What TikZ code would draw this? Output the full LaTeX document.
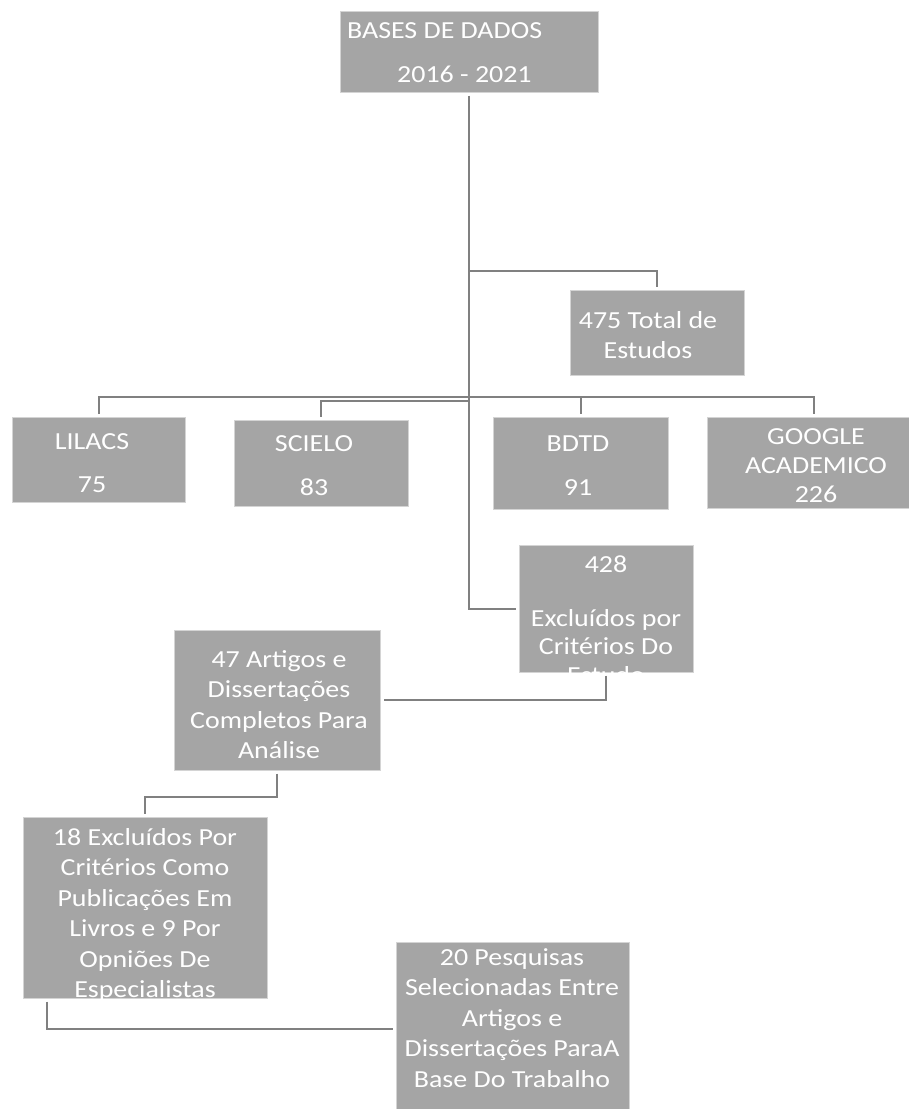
\documentclass[tikz,border=0pt]{standalone}
\usepackage{fontspec}
\setmainfont{Carlito}[FakeStretch=1.14]
\definecolor{boxgray}{HTML}{A5A5A5}
\definecolor{linegray}{HTML}{808080}
\definecolor{edgegray}{HTML}{D4D4D4}
\newcommand{\boxfont}{\fontsize{24.5}{30.5}\selectfont}

\begin{document}
\begin{tikzpicture}[x=1pt, y=-1pt,
    box/.style ={rectangle, fill=boxgray, draw=edgegray, line width=0.6pt, anchor=north west, inner sep=0pt},
    txt/.style ={text=white, font=\boxfont, align=center, anchor=north, inner sep=0pt},
    link/.style ={draw=linegray, line width=2pt, shorten <=3pt, shorten >=3pt}]
   \clip (0,0) rectangle (909,1109);

   % caixas
   \node[box, minimum width=258pt, minimum height=81pt]  (bases)     at (340,11)  {};
   \node[box, minimum width=174pt, minimum height=85pt]  (total)     at (570,290) {};
   \node[box, minimum width=173pt, minimum height=85pt]  (lilacs)    at (12,417)  {};
   \node[box, minimum width=174pt, minimum height=86pt]  (scielo)    at (234,420) {};
   \node[box, minimum width=175pt, minimum height=92pt]  (bdtd)      at (493,417) {};
   \node[box, minimum width=214pt, minimum height=91pt]  (google)    at (707,417) {};
   \node[box, minimum width=174pt, minimum height=127pt] (excl428)   at (519,545) {};
   \node[box, minimum width=206pt, minimum height=140pt] (artigos47) at (174,630) {};
   \node[box, minimum width=244pt, minimum height=181pt] (excl18)    at (23,817)  {};
   \node[box, minimum width=233pt, minimum height=173pt] (pesq20)    at (396,942) {};

   % textos (\strut: topo do texto = linha de base - 21.35pt)
   \node[txt, align=left, anchor=north west] (bases-t) at (347,16.6) {\strut BASES DE DADOS\\[13.5pt]\hspace*{50pt}2016 - 2021};
   \node[txt] (total-t)     at (648,306.6) {\strut 475 Total de\\Estudos};
   \node[txt] (lilacs-t)    at (92,427.6)  {\strut LILACS\\[12.5pt]75};
   \node[txt] (scielo-t)    at (314,429.6) {\strut SCIELO\\[13.5pt]83};
   \node[txt] (bdtd-t)      at (578,429.6) {\strut BDTD\\[13.5pt]91};
   \node[txt] (google-t)    at (816,422.6) {\strut GOOGLE\\[-1.5pt]ACADEMICO\\[-1.5pt]226};
   \begin{scope}
     \clip (excl428.north west) rectangle (excl428.south east);
     \node[txt] (excl428-t) at (606,550.6) {\strut 428\\[23.5pt]Excluídos por\\[-2pt]Critérios Do\\[-2pt]Estudo};
   \end{scope}
   \node[txt] (artigos47-t) at (279,645.6) {\strut 47 Artigos e\\Dissertações\\Completos Para\\Análise};
   \begin{scope}
     \clip (excl18.north west) rectangle (excl18.south east);
     \node[txt] (excl18-t) at (145,823.6) {\strut 18 Excluídos Por\\Critérios Como\\Publicações Em\\Livros e 9 Por\\Opniões De\\Especialistas};
   \end{scope}
   \node[txt] (pesq20-t)    at (512,943.6) {\strut 20 Pesquisas\\Selecionadas Entre\\Artigos e\\Dissertações ParaA\\Base Do Trabalho};

   % ligacoes
   \coordinate (fork1) at (469,271);
   \coordinate (fork2) at (469,397);
   \coordinate (fork3) at (469,401);
   \draw[link] (bases.south) |- (excl428.west);
   \draw[link, shorten <=0pt] (fork1) -| (total.north);
   \draw[link] (lilacs.north) |- (fork2) -| (google.north);
   \draw[link, shorten <=0pt] (fork2) -| (bdtd.north);
   \draw[link, shorten <=0pt] (fork3) -| (scielo.north);
   \draw[link] (excl428.south) |- (artigos47.east);
   \draw[link] (artigos47.south) -- ++(0,26) -| (excl18.north);
   \draw[link] ([xshift=24pt]excl18.south west) |- (pesq20.west);
\end{tikzpicture}
\end{document}
